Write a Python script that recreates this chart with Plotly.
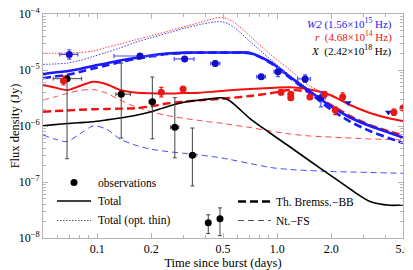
import plotly.graph_objects as go

# ---------------- observations ----------------
# X-ray (2.42e18 Hz)
x_t = [0.068, 0.136, 0.2025, 0.27, 0.338, 0.414, 0.481]
x_t_lo = [0.057, 0.127, 0.194, 0.256, 0.325, 0.410, 0.478]
x_t_hi = [0.082, 0.153, 0.210, 0.284, 0.354, 0.418, 0.485]
x_f = [7.0e-6, 3.7e-6, 2.7e-6, 9.5e-7, 3.0e-7, 1.87e-8, 2.2e-8]
x_f_hi = [7.8e-6, 1.33e-5, 7.5e-6, 3.2e-6, 9.2e-7, 2.6e-8, 3.45e-8]
x_f_lo = [2.6e-7, 6.1e-7, 5.9e-7, 2.7e-7, 8.5e-8, 1.2e-8, 1.1e-8]

# UVOT W2 (1.56e15 Hz)
w2_t = [0.07, 0.173, 0.306, 0.453, 0.815, 1.01, 1.43, 1.75]
w2_t_lo = [0.062, 0.124, 0.268, 0.428, 0.77, 0.96, 1.30, 1.70]
w2_t_hi = [0.078, 0.209, 0.345, 0.480, 0.86, 1.08, 1.53, 1.85]
w2_f = [1.9e-5, 1.78e-5, 1.58e-5, 1.31e-5, 7.6e-6, 9.3e-6, 6.9e-6, 3.2e-6]
w2_f_hi = [2.3e-5, 1.95e-5, 1.72e-5, 1.45e-5, 8.3e-6, 1.1e-5, 8.2e-6, 4.1e-6]
w2_f_lo = [1.57e-5, 1.62e-5, 1.45e-5, 1.18e-5, 6.9e-6, 7.6e-6, 6.0e-6, 2.2e-6]
w2_ul_t = [2.48, 4.15]
w2_ul_f = [2.6e-6, 1.76e-6]

# r band (4.68e14 Hz)
r_t = [0.065, 0.227, 0.30, 1.05, 1.19, 1.19, 1.52, 1.83, 2.1, 2.31, 4.45, 5.0]
r_f = [6.4e-6, 4.0e-6, 4.6e-6, 4.0e-6, 3.7e-6, 3.2e-6, 3.3e-6, 3.7e-6, 1.93e-6, 3.3e-6, 1.76e-6, 2.1e-6]
r_f_hi = [7.8e-6, 4.9e-6, 5.0e-6, 4.4e-6, 4.0e-6, 3.5e-6, 3.5e-6, 4.1e-6, 2.2e-6, 3.9e-6, 2.0e-6, 2.3e-6]
r_f_lo = [5.4e-6, 3.3e-6, 4.2e-6, 3.6e-6, 3.4e-6, 2.9e-6, 3.1e-6, 3.3e-6, 1.6e-6, 2.9e-6, 1.55e-6, 1.9e-6]

# ---------------- model curves ----------------
t_model = [0.05, 0.058, 0.068, 0.08, 0.095, 0.112, 0.134, 0.162, 0.197, 0.244, 0.308, 0.372,
           0.451, 0.494, 0.547, 0.706, 0.912, 1.18, 1.52, 1.97, 2.54, 3.28, 4.23, 5.0]

x_total = [1.01e-6, 1.06e-6, 1.11e-6, 1.15e-6, 1.19e-6, 1.28e-6, 1.39e-6, 1.54e-6, 1.78e-6, 2.21e-6,
           2.68e-6, 2.91e-6, 3.12e-6, 3.19e-6, 2.80e-6, 1.36e-6, 7.5e-7, 4.22e-7, 2.37e-7, 1.33e-7,
           7.5e-8, 4.49e-8, 3.84e-8, 3.88e-8]

r_total = [5.40e-6, 4.87e-6, 4.39e-6, 5.18e-6, 6.18e-6, 5.62e-6, 4.39e-6, 3.96e-6, 3.84e-6, 3.80e-6,
           3.88e-6, 3.93e-6, 4.13e-6, 4.22e-6, 4.34e-6, 4.58e-6, 4.77e-6, 4.91e-6, 4.48e-6, 3.58e-6,
           2.37e-6, 1.71e-6, 1.36e-6, 1.23e-6]
r_bb = [1.80e-6, 1.85e-6, 1.89e-6, 1.95e-6, 1.99e-6, 2.01e-6, 2.04e-6, 2.07e-6, 2.23e-6, 2.52e-6,
        2.74e-6, 2.88e-6, 3.01e-6, 3.07e-6, 3.16e-6, 3.43e-6, 3.84e-6, 4.39e-6, 3.96e-6, 2.42e-6,
        1.51e-6, 1.04e-6, 7.97e-7, 6.91e-7]
r_fs = [2.91e-6, 3.30e-6, 3.80e-6, 4.30e-6, 4.48e-6, 3.88e-6, 2.91e-6, 2.23e-6, 1.82e-6, 1.54e-6,
        1.36e-6, 1.25e-6, 1.15e-6, 1.12e-6, 1.06e-6, 9.4e-7, 8.14e-7, 7.2e-7, 6.63e-7, 6.36e-7,
        6.1e-7, 5.86e-7, 5.74e-7, 5.62e-7]

w2_total = [8.48e-6, 9.02e-6, 9.48e-6, 1.04e-5, 1.18e-5, 1.31e-5, 1.48e-5, 1.64e-5, 1.82e-5, 1.97e-5,
            2.04e-5, 2.05e-5, 2.05e-5, 2.05e-5, 2.05e-5, 2.01e-5, 1.39e-5, 7.5e-6, 4.13e-6, 2.28e-6,
            1.42e-6, 1.0e-6, 7.5e-7, 6.23e-7]
w2_bb = [7.11e-6, 7.65e-6, 8.14e-6, 9.21e-6, 1.06e-5, 1.20e-5, 1.39e-5, 1.57e-5, 1.74e-5, 1.93e-5,
         2.01e-5, 2.04e-5, 2.04e-5, 2.04e-5, 2.04e-5, 1.99e-5, 1.36e-5, 7.2e-6, 3.88e-6, 2.01e-6,
         1.20e-6, 8.14e-7, 5.98e-7, 4.97e-7]
w2_fs = [6.91e-7, 5.86e-7, 5.29e-7, 7.2e-7, 1.0e-6, 8.84e-7, 5.86e-7, 4.58e-7, 3.88e-7, 3.51e-7,
         3.23e-7, 3.03e-7, 2.80e-7, 2.68e-7, 2.52e-7, 2.14e-7, 1.82e-7, 1.67e-7, 1.60e-7, 1.54e-7,
         1.51e-7, 1.48e-7, 1.45e-7, 1.43e-7]

# optically-thin totals (own, denser sampling near the peak)
t_thin = [0.05, 0.058, 0.068, 0.08, 0.095, 0.112, 0.134, 0.162, 0.197, 0.244, 0.308, 0.372,
          0.42, 0.46, 0.494, 0.53, 0.58, 0.706, 0.912, 1.18, 1.52, 1.97, 2.54, 3.28, 4.23, 5.0]
r_thin = [1.99e-5, 1.99e-5, 2.01e-5, 2.05e-5, 2.18e-5, 2.52e-5, 2.91e-5, 3.43e-5, 4.05e-5, 4.87e-5,
          5.98e-5, 7.05e-5, 7.9e-5, 8.5e-5, 8.6e-5, 8.2e-5, 7.0e-5, 4.05e-5, 1.93e-5, 1.0e-5,
          5.18e-6, 3.50e-6, 2.35e-6, 1.70e-6, 1.35e-6, 1.22e-6]
w2_thin = [1.26e-5, 1.28e-5, 1.33e-5, 1.48e-5, 1.74e-5, 2.05e-5, 2.47e-5, 3.10e-5, 3.73e-5, 4.52e-5,
           5.62e-5, 6.49e-5, 6.95e-5, 7.25e-5, 7.25e-5, 6.8e-5, 5.7e-5, 3.23e-5, 1.57e-5, 7.97e-6,
           4.39e-6, 2.32e-6, 1.45e-6, 1.02e-6, 7.65e-7, 6.36e-7]

# ticks
x_ticks = [0.1, 0.2, 0.5, 1.0, 2.0, 5.0]
x_ticktext = ["0.1", "0.2", "0.5", "1.0", "2.0", "5.0"]
y_ticks = [1e-8, 1e-7, 1e-6, 1e-5, 1e-4]
y_ticktext = ["10<sup>\u22128</sup>", "10<sup>\u22127</sup>", "10<sup>\u22126</sup>",
              "10<sup>\u22125</sup>", "10<sup>\u22124</sup>"]

BLUE = "#1a1aff"
BLUE_M = "#1010c8"
RED = "#f01010"
RED_M = "#e81818"
FONT = "Liberation Serif, Times New Roman, serif"

fig = go.Figure()

def curve(t, y, color, width, dash="solid"):
    fig.add_trace(go.Scatter(x=t, y=y, mode="lines",
                             line=dict(color=color, width=width, dash=dash, shape="spline", smoothing=0.8),
                             hoverinfo="skip", showlegend=False))

# thin (non-thermal FS) dashed
curve(t_model, w2_fs, "rgba(40,40,255,0.85)", 1.0, "6px,4px")
curve(t_model, r_fs, "rgba(255,40,40,0.85)", 1.0, "6px,4px")
# optically thin dotted
curve(t_thin, w2_thin, "rgba(40,40,255,0.9)", 1.0, "1.5px,1.5px")
curve(t_thin, r_thin, "rgba(255,40,40,0.9)", 1.0, "1.5px,1.5px")
# thermal BB thick dashed
curve(t_model, r_bb, RED, 2.4, "8px,4px")
curve(t_model, w2_bb, BLUE, 2.6, "8px,4px")
# totals
curve(t_model, x_total, "black", 1.6)
curve(t_model, r_total, RED, 2.0)
curve(t_model, w2_total, BLUE, 2.6)

# observations
def xerr(t, lo, hi):
    return dict(type="data", symmetric=False,
                array=[h - v for v, h in zip(t, hi)], arrayminus=[v - l for v, l in zip(t, lo)])

def yerr(f, lo, hi):
    return dict(type="data", symmetric=False,
                array=[h - v for v, h in zip(f, hi)], arrayminus=[v - l for v, l in zip(f, lo)])

fig.add_trace(go.Scatter(
    x=x_t, y=x_f, mode="markers",
    marker=dict(color="black", size=7),
    error_x={**xerr(x_t, x_t_lo, x_t_hi), "color": "#444444", "thickness": 1, "width": 2},
    error_y={**yerr(x_f, x_f_lo, x_f_hi), "color": "#444444", "thickness": 1, "width": 2},
    showlegend=False))

fig.add_trace(go.Scatter(
    x=w2_t, y=w2_f, mode="markers",
    marker=dict(color=BLUE_M, size=7),
    error_x={**xerr(w2_t, w2_t_lo, w2_t_hi), "color": "#4a4aff", "thickness": 1.2, "width": 2},
    error_y={**yerr(w2_f, w2_f_lo, w2_f_hi), "color": "#4a4aff", "thickness": 1.2, "width": 2},
    showlegend=False))

fig.add_trace(go.Scatter(
    x=w2_ul_t, y=w2_ul_f, mode="markers",
    marker=dict(color=BLUE_M, size=6, symbol="triangle-down"),
    showlegend=False))

fig.add_trace(go.Scatter(
    x=r_t, y=r_f, mode="markers",
    marker=dict(color=RED_M, size=7),
    error_y={**yerr(r_f, r_f_lo, r_f_hi), "color": RED_M, "thickness": 1.2, "width": 2},
    showlegend=False))

# ---------------- layout ----------------
# the page body adds an 8px offset, so the figure is 8px smaller than the window
OFF = 8
W, H = 413 - OFF, 270 - OFF
L, R, T, B = 43 - OFF, 10, 14 - OFF, 32
pw, ph = W - L - R, H - T - B

def px(x):  # page pixel -> plot paper coordinate
    return (x - OFF - L) / pw

def py(y):
    return (H - B - (y - OFF)) / ph

annotations = [
    dict(text="<i>W2</i> (1.56\u00d710<sup>15</sup> Hz)", x=px(394), y=py(24), font=dict(color="#2020ee", size=11)),
    dict(text="<i>r</i>  (4.68\u00d710<sup>14</sup> Hz)", x=px(394), y=py(37), font=dict(color="#ee1010", size=11)),
    dict(text="<i>X</i>  (2.42\u00d710<sup>18</sup> Hz)", x=px(394), y=py(50.5), font=dict(color="black", size=11)),
]
for a in annotations:
    a.update(xref="paper", yref="paper", xanchor="right", yanchor="middle", showarrow=False)
    a["font"]["family"] = FONT

legend_texts = [
    ("observations", 96, 182.5),
    ("Total", 96, 201),
    ("Total (opt. thin)", 96, 220.5),
    ("Th. Bremss.\u2212BB", 274, 201.5),
    ("Nt.\u2212FS", 274, 220.5),
]
for txt, lx, ly in legend_texts:
    annotations.append(dict(text=txt, x=px(lx), y=py(ly), xref="paper", yref="paper",
                            xanchor="left", yanchor="middle", showarrow=False,
                            font=dict(family=FONT, size=11.5, color="black")))

shapes = [
    dict(type="line", xref="paper", yref="paper", x0=px(57), x1=px(91), y0=py(201), y1=py(201),
         line=dict(color="black", width=1.6)),
    dict(type="line", xref="paper", yref="paper", x0=px(57), x1=px(91), y0=py(220.5), y1=py(220.5),
         line=dict(color="#555555", width=1, dash="1.5px,1.5px")),
    dict(type="line", xref="paper", yref="paper", x0=px(238), x1=px(271), y0=py(201.5), y1=py(201.5),
         line=dict(color="black", width=2.4, dash="8px,4px")),
    dict(type="line", xref="paper", yref="paper", x0=px(238), x1=px(271), y0=py(220.5), y1=py(220.5),
         line=dict(color="#555555", width=1, dash="6px,4px")),
    dict(type="circle", xref="paper", yref="paper", xsizemode="pixel", ysizemode="pixel",
         xanchor=px(74), yanchor=py(182.5), x0=-3.5, x1=3.5, y0=-3.5, y1=3.5,
         fillcolor="black", line=dict(color="black", width=0)),
]

x_minor = [0.06, 0.07, 0.08, 0.09, 0.3, 0.4, 0.6, 0.7, 0.8, 0.9, 3, 4]
y_minor = [m * 10.0 ** e for e in range(-8, -4) for m in range(2, 10)]

AX = "#b4b4b4"
fig.update_layout(
    width=W, height=H,
    margin=dict(l=L, r=R, t=T, b=B, pad=0, autoexpand=False),
    paper_bgcolor="white", plot_bgcolor="white",
    font=dict(family=FONT, size=12, color="black"),
    showlegend=False,
    annotations=annotations,
    shapes=shapes,
    xaxis=dict(type="log", range=[-1.30103, 0.69897], tickvals=x_ticks, ticktext=x_ticktext,
               automargin=False, ticklabeloverflow="allow",
               ticks="inside", ticklen=5, tickcolor=AX, tickwidth=1,
               showline=True, linecolor=AX, linewidth=1, mirror="allticks",
               showgrid=False, zeroline=False,
               minor=dict(tickvals=x_minor, ticks="inside", ticklen=3, tickcolor=AX, showgrid=False),
               tickfont=dict(size=12, family=FONT),
               title=dict(text="Time since burst (days)", font=dict(size=12.5, family=FONT), standoff=4)),
    yaxis=dict(type="log", range=[-8, -4], tickvals=y_ticks, ticktext=y_ticktext,
               automargin=False, ticklabeloverflow="allow",
               ticks="inside", ticklen=5, tickcolor=AX, tickwidth=1,
               showline=True, linecolor=AX, linewidth=1, mirror="allticks",
               showgrid=False, zeroline=False,
               minor=dict(tickvals=y_minor, ticks="inside", ticklen=3, tickcolor=AX, showgrid=False),
               tickfont=dict(size=12, family=FONT),
               title=dict(text="Flux density (Jy)", font=dict(size=12.5, family=FONT), standoff=2)),
)

fig.write_html("out.html")
